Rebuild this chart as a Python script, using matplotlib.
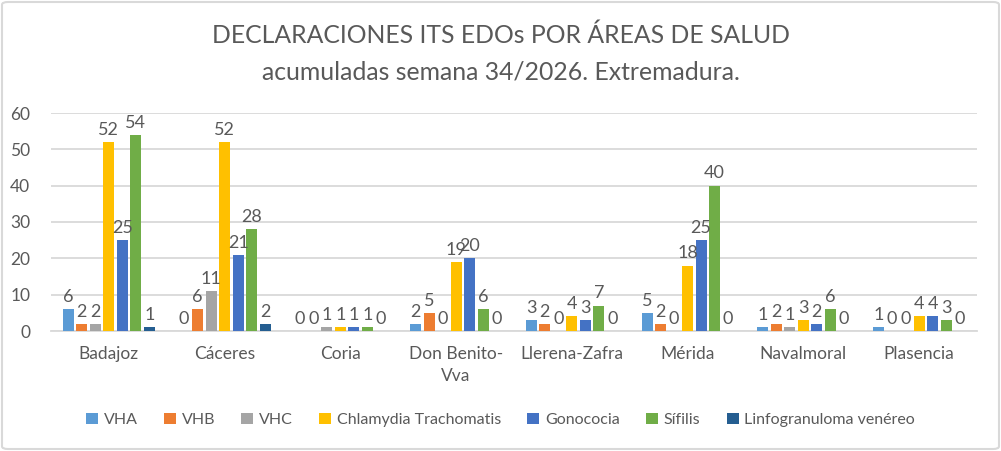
import matplotlib
matplotlib.use("Agg")
import matplotlib.pyplot as plt
import numpy as np
from matplotlib.patches import FancyBboxPatch

categories = ["Badajoz", "Cáceres", "Coria", "Don Benito-\nVva", "Llerena-Zafra",
              "Mérida", "Navalmoral", "Plasencia"]
series_names = ["VHA", "VHB", "VHC", "Chlamydia Trachomatis", "Gonococia",
                "Sífilis", "Linfogranuloma venéreo"]
vha = [6, 0, 0, 2, 3, 5, 1, 1]
vhb = [2, 6, 0, 5, 2, 2, 2, 0]
vhc = [2, 11, 1, 0, 0, 0, 1, 0]
chlamydia = [52, 52, 1, 19, 4, 18, 3, 4]
gonococia = [25, 21, 1, 20, 3, 25, 2, 4]
sifilis = [54, 28, 1, 6, 7, 40, 6, 3]
linfogranuloma = [1, 2, 0, 0, 0, 0, 0, 0]
yticks = [0, 10, 20, 30, 40, 50, 60]
title1 = "DECLARACIONES ITS EDOs POR ÁREAS DE SALUD"
title2 = "acumuladas semana 34/2026. Extremadura."

series = [vha, vhb, vhc, chlamydia, gonococia, sifilis, linfogranuloma]
colors = ["#5B9BD5", "#ED7D31", "#A5A5A5", "#FFC000", "#4472C4", "#70AD47", "#255E91"]
txt = "#595959"
grid = "#D9D9D9"

plt.rcParams['font.family'] = ['Lato', 'DejaVu Sans']

fig = plt.figure(figsize=(10.01, 4.51), dpi=100)
ax = fig.add_axes([51/1001, 1-331/451, (977-51)/1001, (331-113)/451])

x = np.arange(len(categories))
slot = 0.1166
width = 0.095
handles = []
for i, (vals, name, c) in enumerate(zip(series, series_names, colors)):
    off = (i - 3) * slot
    bars = ax.bar(x + off, vals, width=width, color=c, label=name, zorder=3)
    ax.bar_label(bars, labels=[str(v) for v in vals], padding=3,
                 fontsize=13, color=txt, zorder=4)
    handles.append(bars)

ax.set_xlim(-0.5, len(categories) - 0.5)
ax.set_ylim(0, 60)
ax.set_yticks(yticks)
ax.set_xticks(x)
ax.set_xticklabels(categories, fontsize=12.5, color=txt, linespacing=1.45)
ax.tick_params(axis='y', labelsize=12.5, labelcolor=txt, length=0, pad=15)
ax.tick_params(axis='x', length=0, pad=11)
ax.grid(axis='y', color=grid, linewidth=1.3, zorder=0)
for s in ['top', 'right', 'left']:
    ax.spines[s].set_visible(False)
ax.spines['bottom'].set_color(grid)
ax.spines['bottom'].set_linewidth(1.3)
ax.spines['bottom'].set_zorder(2)

fig.text(0.5, 1 - 35/451, title1, ha='center', va='center', fontsize=17.8, color=txt)
fig.text(0.5, 1 - 72/451, title2, ha='center', va='center', fontsize=17.8, color=txt)

leg = fig.legend(handles=handles, labels=series_names, loc='center',
                 bbox_to_anchor=(0.5, 1 - 420/451), ncol=7, frameon=False,
                 fontsize=11.5, handlelength=0.75, handleheight=0.75,
                 handletextpad=0.35, columnspacing=1.65)
for t in leg.get_texts():
    t.set_color(txt)

border = FancyBboxPatch((2/1001, 2/451), 997/1001, 447/451,
                        boxstyle="round,pad=0,rounding_size=0.006",
                        transform=fig.transFigure, fill=False,
                        edgecolor=grid, linewidth=1.5)
fig.patches.append(border)

fig.savefig("out.png", dpi=100)
